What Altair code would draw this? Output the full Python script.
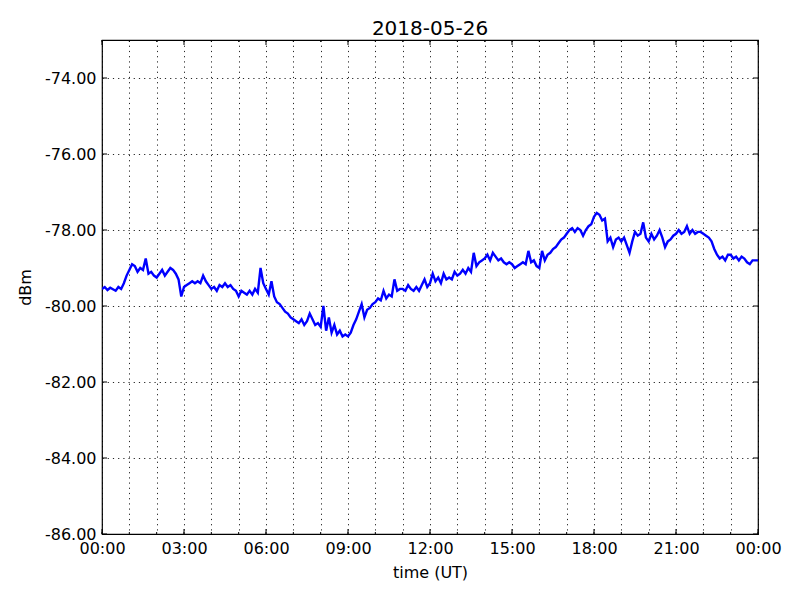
import altair as alt
import pandas as pd

# received power (dBm), one value every 6 minutes
dbm_00_06 = [
    -79.55, -79.5, -79.58, -79.52, -79.56, -79.6, -79.5, -79.55, -79.4, -79.2,
    -79.05, -78.9, -78.95, -79.1, -79.0, -79.05, -78.75, -79.15, -79.1, -79.2,
    -79.25, -79.15, -79.05, -79.2, -79.1, -79.0, -79.05, -79.15, -79.3, -79.75,
    -79.5, -79.45, -79.4, -79.35, -79.4, -79.35, -79.4, -79.2, -79.35, -79.45,
    -79.55, -79.5, -79.6, -79.45, -79.5, -79.4, -79.5, -79.45, -79.55, -79.6,
    -79.75, -79.6, -79.65, -79.7, -79.6, -79.7, -79.55, -79.65, -79.0, -79.4,
]
dbm_06_12 = [
    -79.55, -79.7, -79.35, -79.75, -79.9, -79.95, -80.05, -80.15, -80.2, -80.3,
    -80.35, -80.4, -80.45, -80.35, -80.5, -80.4, -80.2, -80.35, -80.5, -80.45,
    -80.55, -80.0, -80.65, -80.3, -80.7, -80.5, -80.75, -80.65, -80.8, -80.75,
    -80.8, -80.7, -80.5, -80.35, -80.15, -79.95, -80.3, -80.1, -80.05, -79.95,
    -79.9, -79.8, -79.85, -79.6, -79.8, -79.7, -79.75, -79.3, -79.6, -79.55,
    -79.55, -79.6, -79.45, -79.55, -79.6, -79.5, -79.6, -79.45, -79.3, -79.5,
]
dbm_12_18 = [
    -79.4, -79.15, -79.35, -79.25, -79.4, -79.15, -79.3, -79.25, -79.3, -79.1,
    -79.2, -79.15, -79.05, -79.15, -79.0, -79.1, -78.6, -78.95, -78.85, -78.8,
    -78.75, -78.65, -78.8, -78.6, -78.7, -78.8, -78.75, -78.85, -78.9, -78.85,
    -78.9, -79.0, -78.95, -78.9, -78.85, -78.9, -78.55, -78.85, -78.8, -78.95,
    -79.0, -78.55, -78.8, -78.65, -78.6, -78.5, -78.45, -78.35, -78.25, -78.2,
    -78.1, -78.0, -77.95, -78.05, -77.95, -78.0, -78.15, -78.0, -77.9, -77.85,
]
dbm_18_24 = [
    -77.65, -77.55, -77.6, -77.75, -77.7, -78.3, -78.2, -78.45, -78.25, -78.2,
    -78.3, -78.2, -78.4, -78.6, -78.3, -78.05, -78.15, -78.1, -77.8, -78.2,
    -78.3, -78.1, -78.25, -78.15, -78.0, -78.2, -78.45, -78.3, -78.25, -78.15,
    -78.1, -78.0, -78.1, -78.05, -77.9, -78.1, -78.0, -78.1, -78.05, -78.05,
    -78.1, -78.15, -78.2, -78.3, -78.5, -78.65, -78.75, -78.7, -78.8, -78.65,
    -78.65, -78.75, -78.7, -78.8, -78.7, -78.75, -78.85, -78.9, -78.8, -78.8,
    -78.8,
]

hour_ticks = list(range(0, 25))
major_hours = [0, 3, 6, 9, 12, 15, 18, 21, 24]
dbm_ticks = [-86, -84, -82, -80, -78, -76, -74]

values = dbm_00_06 + dbm_06_12 + dbm_12_18 + dbm_18_24
df = pd.DataFrame({"hour": [i * 0.1 for i in range(len(values))], "dbm": values})

W, H = 656, 494

x_scale = alt.Scale(domain=[0, 24], nice=False, zero=False)
y_scale = alt.Scale(domain=[-86, -73], nice=False, zero=False)

grid_style = dict(grid=True, gridColor="black", gridDash=[1.2, 4], gridWidth=1, gridOpacity=0.85,
                  domain=False, ticks=False, labelFont="DejaVu Sans", labelFontSize=16,
                  labelColor="black", titleFont="DejaVu Sans", titleFontSize=16,
                  titleFontWeight="normal", titleColor="black", labelPadding=6,
                  labelOverlap=False, labelFlush=False, labelBound=False)

x_axis = alt.Axis(values=hour_ticks, title="time (UT)", titlePadding=8,
                  labelExpr="datum.value % 3 == 0 ? ((datum.value % 24) < 10 ? '0' : '') + (datum.value % 24) + ':00' : ''",
                  **grid_style)
y_axis = alt.Axis(values=dbm_ticks, title="dBm", titlePadding=11,
                  labelExpr="'-' + format(-datum.value, '.2f')",
                  **grid_style)

X = alt.X("hour:Q", scale=x_scale, axis=x_axis)
Y = alt.Y("dbm:Q", scale=y_scale, axis=y_axis)

line = alt.Chart(df).mark_line(color="#0000ff", strokeWidth=2.4, clip=True).encode(x=X, y=Y)

minor_df = pd.DataFrame({"hour": hour_ticks})
major_df = pd.DataFrame({"hour": major_hours})
ytick_df = pd.DataFrame({"dbm": dbm_ticks})

def xticks(data, length):
    base = alt.Chart(data).mark_rule(color="black", strokeWidth=1)
    bottom = base.encode(x=X, y=alt.value(H), y2=alt.value(H - length))
    top = base.encode(x=X, y=alt.value(0), y2=alt.value(length))
    return [bottom, top]

ybase = alt.Chart(ytick_df).mark_rule(color="black", strokeWidth=1)
yleft = ybase.encode(y=Y, x=alt.value(0), x2=alt.value(5))
yright = ybase.encode(y=Y, x=alt.value(W), x2=alt.value(W - 5))

chart = alt.layer(line, *xticks(minor_df, 2), *xticks(major_df, 5), yleft, yright).properties(
    width=W, height=H,
    title=alt.TitleParams("2018-05-26", fontSize=20, fontWeight="normal", font="DejaVu Sans",
                          color="black", offset=1),
    autosize=alt.AutoSizeParams(type="none"),
    padding={"left": 94, "top": 32, "right": 34, "bottom": 58},
    background="white",
).configure_view(stroke="black", strokeWidth=1.2)

chart.save("out.html", embed_options={"renderer": "svg", "actions": False})
